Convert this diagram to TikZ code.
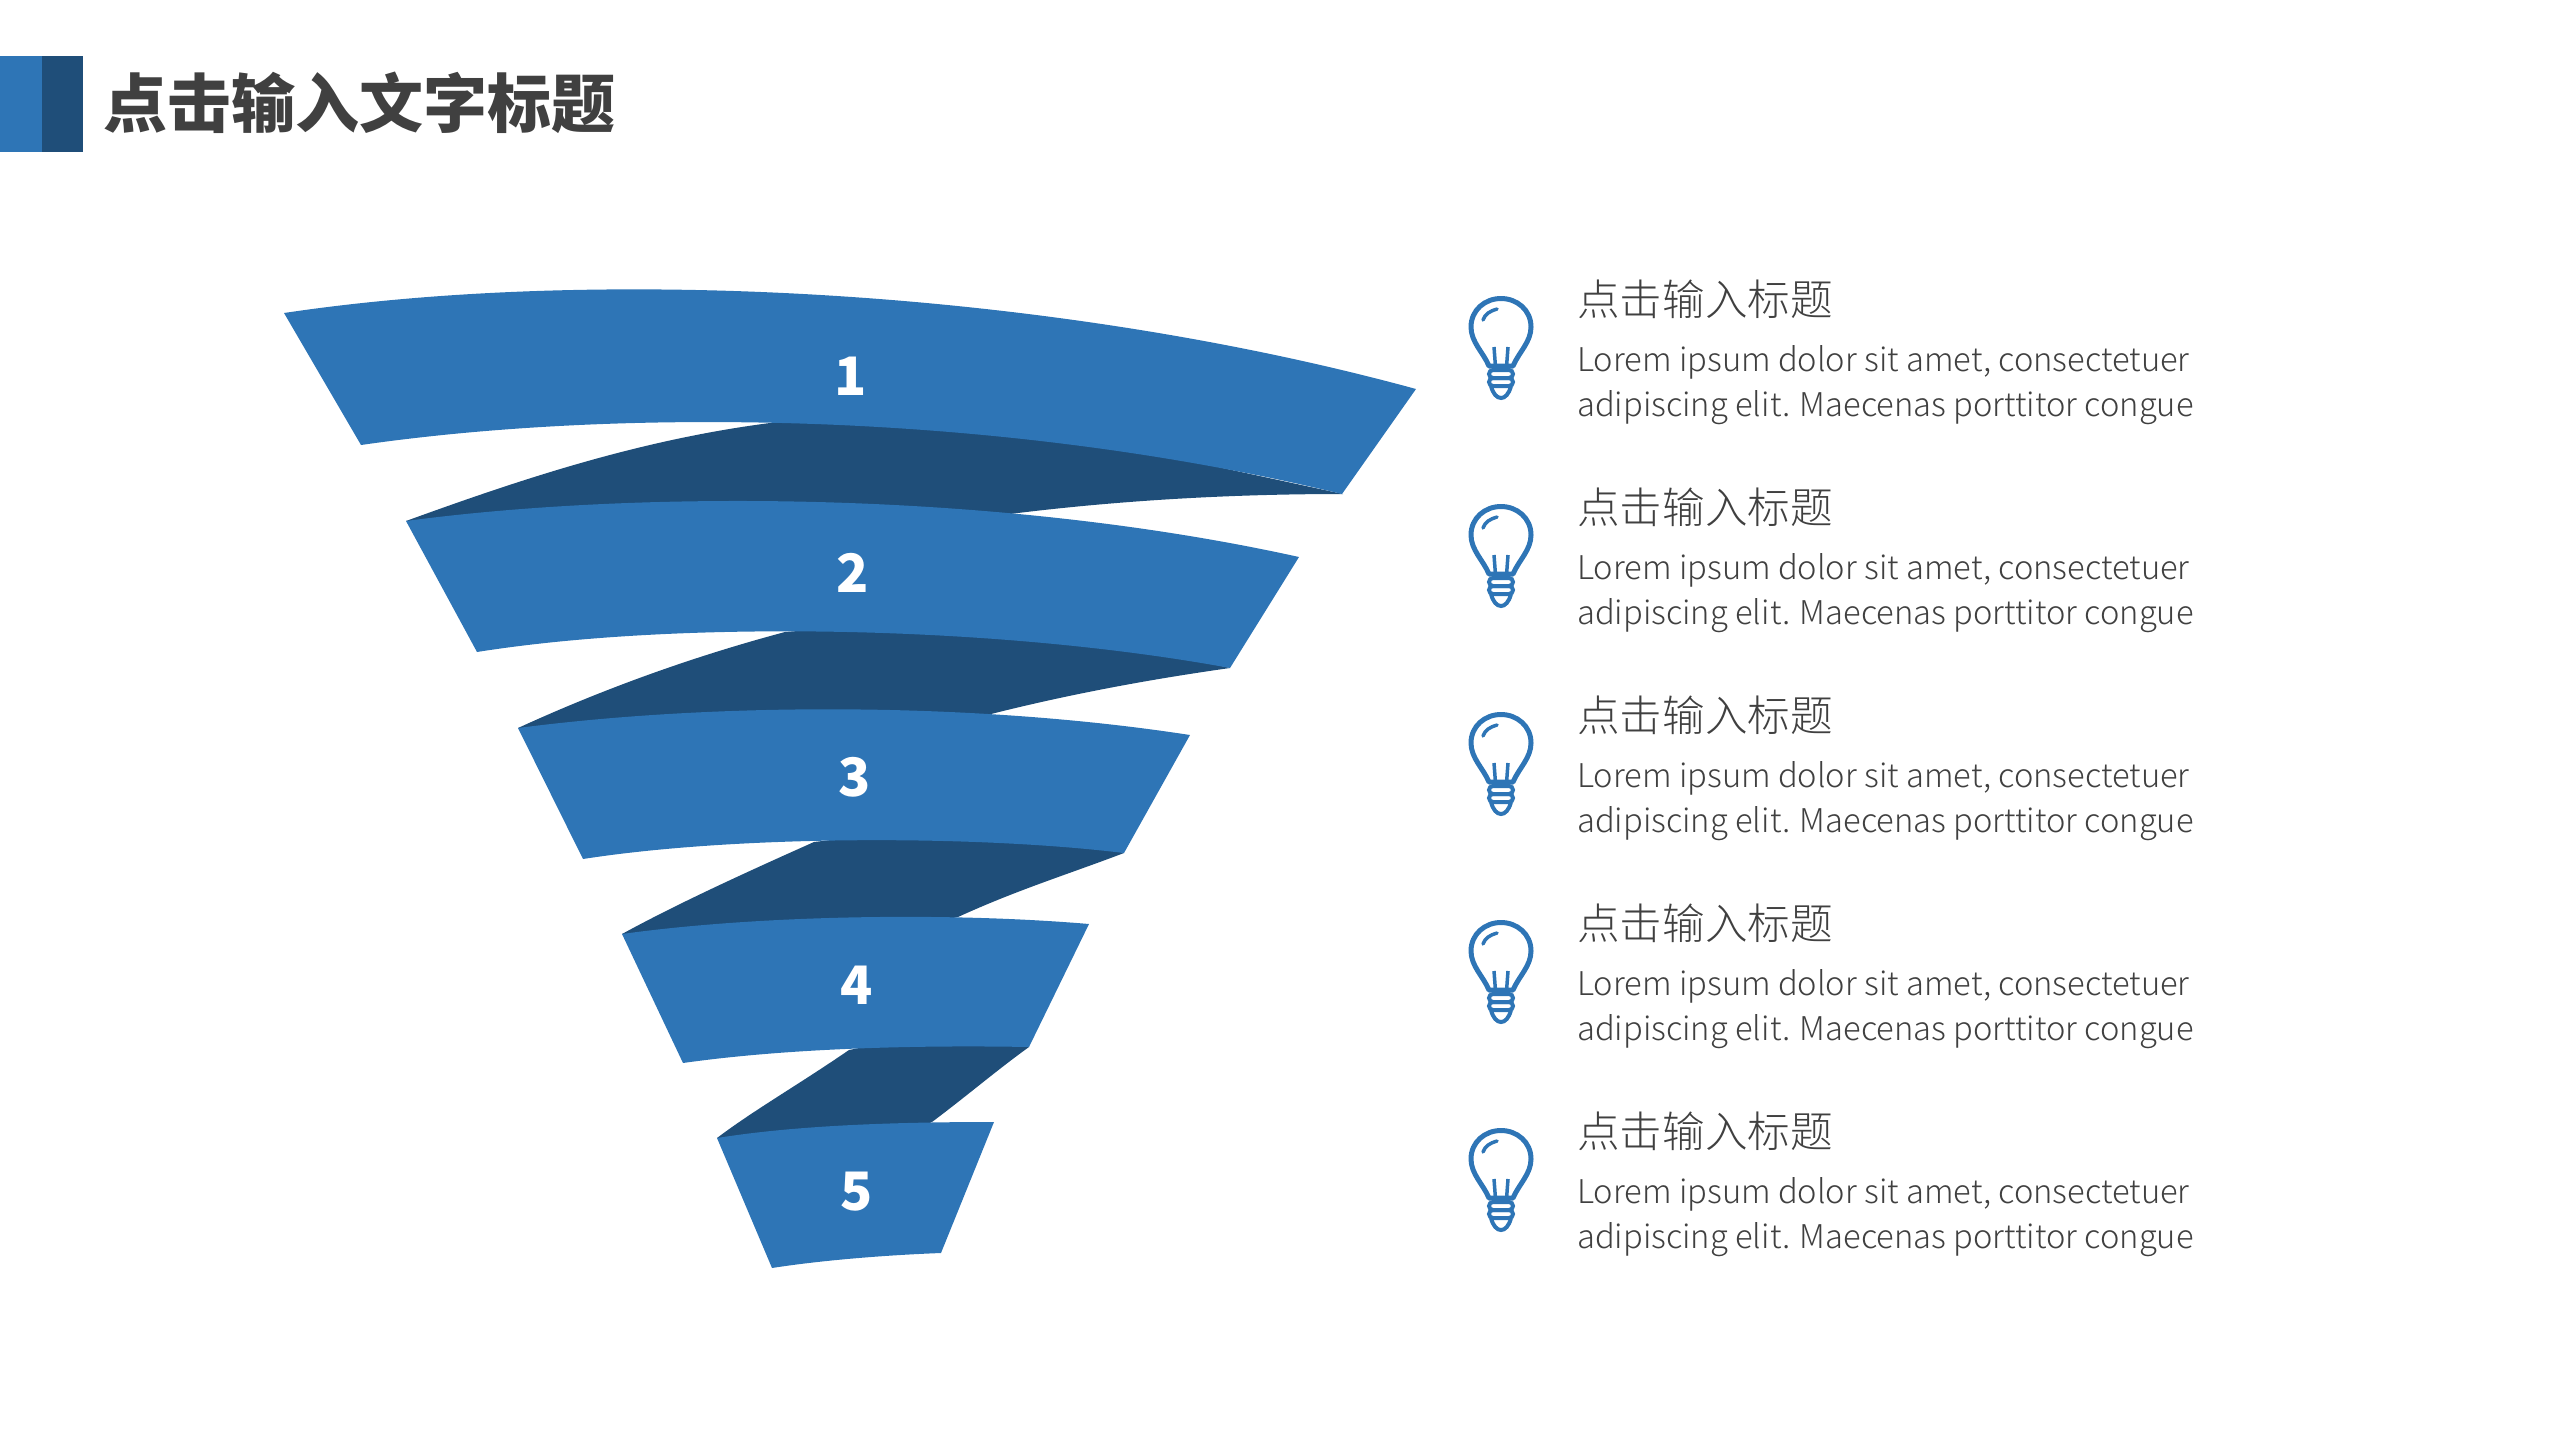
\documentclass[tikz,border=0pt]{standalone}
\usepackage{fontspec}
\setmainfont{Noto Sans CJK SC}
\newfontfamily\thinfont{Noto Sans CJK SC Light}
\definecolor{ribbon}{HTML}{2E75B6}
\definecolor{deepblue}{HTML}{1F4E79}
\definecolor{ink}{HTML}{404040}
\tikzset{
  band/.style = {fill=ribbon},
  fold/.style = {fill=deepblue},
  num/.style = {text=white, font=\bfseries\fontsize{53}{53}\selectfont},
  title/.style = {text=ink, anchor=base west, inner sep=0pt, font=\bfseries\fontsize{64}{64}\selectfont},
  head/.style = {text=ink, anchor=base west, inner sep=0pt, font=\thinfont\fontsize{42.6}{42.6}\selectfont},
  body/.style = {text=ink, anchor=base west, inner sep=0pt, font=\thinfont\fontsize{32.7}{46}\selectfont},
  pics/bulb/.style = {code={
    \draw[ribbon, line width=5pt, line join=round] (-12,86) .. controls (-18,72) and (-30,62) .. (-30,47)
      .. controls (-30,30) and (-16,18.5) .. (0,18.5) .. controls (16,18.5) and (30,30) .. (30,47)
      .. controls (30,62) and (18,72) .. (12,86) -- cycle;
    \draw[ribbon, line width=3.5pt, line cap=round] (-18,40) .. controls (-16,34) and (-11,31) .. (-4,29);
    \draw[ribbon, line width=3.5pt] (-7,67) -- (-5.5,87);
    \draw[ribbon, line width=3.5pt] (7,67) -- (5.5,87);
    \draw[ribbon, line width=4pt, rounded corners=4pt] (-12,90) rectangle (12,98);
    \draw[ribbon, line width=4pt, rounded corners=4pt] (-12,98) rectangle (12,106);
    \draw[ribbon, line width=4pt] (-10,106) .. controls (-8,114) and (-4,118) .. (0,118) .. controls (4,118) and (8,114) .. (10,106);
  }}
}
\begin{document}
\begin{tikzpicture}[x=1pt, y=-1pt]
  \useasboundingbox (0,0) rectangle (2560,1440);
  % header
  \fill[ribbon] (0,56) rectangle (42,152);
  \fill[fold] (42,56) rectangle (83,152);
  \node[title] (main) at (103,127) {点击输入文字标题};
  % folds behind the ribbons
  \fill[fold] (406,521) .. controls (519,480) and (638,440) .. (770,423) -- (1000,420) -- (1343,494)
    .. controls (1234,494) and (1125,500) .. (1018,513) -- (800,540) -- cycle;
  \fill[fold] (518,728) .. controls (590,695) and (680,660) .. (785,632) -- (1000,615) -- (1230,668)
    .. controls (1145,680) and (1066,695) .. (987,715) -- (800,750) -- cycle;
  \fill[fold] (622,934) .. controls (675,905) and (740,875) .. (814,842) -- (1000,820) -- (1124,853)
    .. controls (1066,875) and (1017,890) .. (958,917) -- (800,950) -- cycle;
  \fill[fold] (717,1138) .. controls (754,1110) and (798,1085) .. (849,1050) -- (950,1030) -- (1029,1047)
    .. controls (997,1070) and (968,1095) .. (932,1122) -- (850,1160) -- cycle;
  % ribbons
  \fill[band] (284,313) .. controls (598,266) and (1046,288) .. (1416,389) -- (1342,494)
    .. controls (996,410) and (618,408) .. (361,445) -- cycle;
  \fill[band] (406,521) .. controls (638,490) and (996,490) .. (1299,557) -- (1230,668)
    .. controls (996,625) and (678,620) .. (477,652) -- cycle;
  \fill[band] (518,728) .. controls (718,702) and (976,702) .. (1190,735) -- (1124,853)
    .. controls (976,835) and (737,835) .. (583,859) -- cycle;
  \fill[band] (622,934) .. controls (759,915) and (948,912) .. (1089,924) -- (1029,1047)
    .. controls (918,1045) and (789,1048) .. (683,1063) -- cycle;
  \fill[band] (717,1138) .. controls (798,1125) and (898,1122) .. (994,1122) -- (941,1253)
    .. controls (888,1255) and (823,1260) .. (772,1268) -- cycle;
  % numbers
  \foreach \n/\px/\py in {1/851/376, 2/853/573, 3/855/777, 4/857/985, 5/857/1192}
    \node[num] (n\n) at (\px,\py) {\n};
  % list on the right
  \foreach \i/\dy in {1/0, 2/208, 3/416, 4/624, 5/832} {
    \pic at (1501,280+\dy) {bulb};
    \node[head] (h\i) at (1577,315+\dy) {点击输入标题};
    \node[body] (a\i) at (1577,371+\dy) {Lorem ipsum dolor sit amet, consectetuer};
    \node[body] (b\i) at (1577,416.5+\dy) {adipiscing elit. Maecenas porttitor congue};
  }
\end{tikzpicture}
\end{document}
